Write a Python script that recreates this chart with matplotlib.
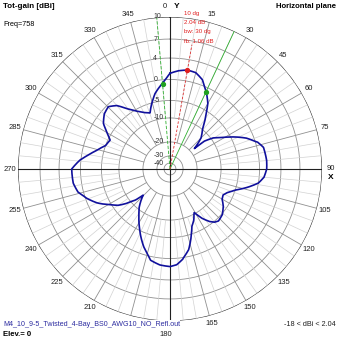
import numpy as np
import matplotlib.pyplot as plt

plt.rcParams['font.family'] = ['Liberation Sans', 'DejaVu Sans']

# ------------------------------------------------------------
# pattern data: horizontal plane, total gain (dBi) vs azimuth (deg)
# ------------------------------------------------------------
azimuth = [0, 5, 10, 15, 20, 25, 30, 38, 45, 50, 51, 54, 58, 63, 68, 73, 77,
           85, 90, 95, 99, 103, 107.5, 112, 116, 120, 125, 131, 137, 140, 143,
           147, 151, 155, 159, 163, 167, 172, 176, 180, 186, 192, 198, 205,
           212, 218.5, 222, 225.8, 228, 231.6, 235, 239, 245, 250.6, 256,
           261.6, 270, 275.7, 280, 284.5, 290, 295.8, 300, 304.4, 310, 315.3,
           320, 324.5, 330, 335, 340.4, 344, 348.8, 354.6, 360]
gain_dbi = [1.15, 1.7, 2.04, 1.9, 1.0, -0.96, -3.3, -9.2, -13, -18, -12.8,
            -9.5, -7.7, -4.5, -1.7, 0.4, 1.2, 1.4, 1.34, 0.9, 0.0, -2.2, -4.8,
            -6.8, -7.7, -7.4, -6.0, -4.8, -4.4, -4.8, -5.8, -7.8, -10.5, -8.5,
            -7.1, -4.2, -1.6, 0.3, 1.2, 1.5, 1.3, 0.7, -1.5, -4.5, -7.8, -10.6,
            -13, -15.7, -12, -8.8, -6.5, -4.8, -2.2, -0.3, 1.0, 1.54, 1.64,
            0.17, -1.7, -3.4, -5.0, -5.6, -4.0, -2.1, -0.9, -0.44, -1.6, -3.7,
            -5.5, -6.8, -7.6, -5.4, -3.0, -0.96, 1.15]

peak_az = 10
peak_db = 2.04
bw_az = [355, 25]
bw_db = [-0.96, -0.96]

# ARRL-like log scale rings
grid_db = [10, 7, 4, 0, -5, -10, -20, -30, -40]
grid_r = [1.0, 0.855, 0.730, 0.589, 0.451, 0.336, 0.178, 0.086, 0.039]

# 195 sits under the file name in the original, so it is not shown
angle_labels = [a for a in range(0, 360, 15) if a != 195]

info_lines = ["10 dg", "2.04 dB", "bw: 30 dg", "fb: 1.06 dB"]


def db_to_r(v):
    return np.interp(v, grid_db[::-1], grid_r[::-1])


W = H = 339
fig = plt.figure(figsize=(W / 100, H / 100), dpi=100)
fig.patch.set_facecolor("white")

cx, cy, R = 170, 169, 152
ax = fig.add_axes([(cx - R) / W, (H - cy - R) / H, 2 * R / W, 2 * R / H],
                  projection="polar")
ax.set_theta_zero_location("N")
ax.set_theta_direction(-1)
ax.set_ylim(0, 1)
ax.axis("off")

# rings
th = np.linspace(0, 2 * np.pi, 721)
for d, r in zip(grid_db, grid_r):
    if d == 10:
        ax.plot(th, np.full_like(th, r), color="#303030", lw=0.8)
    else:
        ax.plot(th, np.full_like(th, r), color="#909090", lw=0.6)

# spokes
for a in range(0, 360, 5):
    t = np.deg2rad(a)
    if a % 90 == 0:
        continue
    if a % 15 == 0:
        ax.plot([t, t], [grid_r[6], 1], color="#909090", lw=0.6)
    else:
        ax.plot([t, t], [grid_r[5], 1], color="#d2d2d2", lw=0.5)

# main axes
for a in (0, 90):
    t = np.deg2rad(a)
    ax.plot([t, t], [0, 1], color="#202020", lw=0.8)
    ax.plot([t + np.pi, t + np.pi], [0, 1], color="#202020", lw=0.8)

# angle labels
for a in angle_labels:
    t = np.deg2rad(a)
    if a == 0:
        ax.annotate("0", (t, 1.0), xytext=(-4, 7.5), textcoords="offset points",
                    ha="center", va="center", fontsize=5.5, color="#202020",
                    annotation_clip=False)
        continue
    if a == 180:
        ax.annotate("180", (t, 1.0), xytext=(-3, -9.5), textcoords="offset points",
                    ha="center", va="center", fontsize=5.5, color="#202020",
                    annotation_clip=False)
        continue
    ax.text(t, 1.055, str(a), ha="center", va="center", fontsize=5.5,
            color="#202020", clip_on=False)

ax.annotate("Y", (0, 1.0), xytext=(4.5, 7.5), textcoords="offset points",
            ha="center", va="center", fontsize=6, fontweight="bold",
            annotation_clip=False)
ax.annotate("X", (np.pi / 2, 1.0), xytext=(6, -6), textcoords="offset points",
            ha="center", va="center", fontsize=6, fontweight="bold",
            annotation_clip=False)

# ring labels
for d, r in zip(grid_db, grid_r):
    ax.annotate(str(d), (0, r), xytext=(-12, 0), textcoords="offset points",
                ha="left", va="center", fontsize=5, color="#303030")

# beamwidth / peak lines
for a, ls in zip(bw_az, [(0, (4, 2)), "-"]):
    t = np.deg2rad(a)
    ax.plot([t, t], [0, 1], color="#30b030", lw=0.6, linestyle=ls)
tp = np.deg2rad(peak_az)
ax.plot([tp, tp], [0, 0.83], color="#e03030", lw=0.6, linestyle=(0, (3, 2)))

# pattern
az_fine = np.linspace(0, 360, 1441)
g_fine = np.interp(az_fine, azimuth, gain_dbi)
ax.plot(np.deg2rad(az_fine), db_to_r(g_fine), color="#10109c", lw=1.2)

ax.plot(np.deg2rad(bw_az), db_to_r(np.array(bw_db)), "o", color="#20a020",
        ms=2.8, mec="#20a020")
ax.plot([tp], [db_to_r(peak_db)], "o", color="#e02020", ms=2.8)

# red info text
for i, s in enumerate(info_lines):
    fig.text(184 / W, 1 - (13 + i * 9.5) / H, s, ha="left", va="center",
             fontsize=4.4, color="#e02020")

# header / footer texts
fig.text(3 / W, 1 - 7 / H, "Tot-gain [dBi]", ha="left", va="center",
         fontsize=5.8, fontweight="bold")
fig.text(3 / W, 1 - 25 / H, "Freq=758", ha="left", va="center", fontsize=5.2)
fig.text(336 / W, 1 - 7 / H, "Horizontal plane", ha="right", va="center",
         fontsize=5.6, fontweight="bold")
fig.text(3 / W, 1 - 324 / H, "M4_10_9-5_Twisted_4-Bay_BS0_AWG10_NO_Refl.out",
         ha="left", va="center", fontsize=5.1, color="#2b2ba0",
         bbox=dict(boxstyle="square,pad=0.05", fc="white", ec="none"))
fig.text(3 / W, 1 - 334 / H, "Elev.= 0", ha="left", va="center",
         fontsize=5.6, fontweight="bold")
fig.text(336 / W, 1 - 324 / H, "-18 < dBi < 2.04", ha="right", va="center",
         fontsize=5.2, color="#202020")

fig.savefig("out.png", dpi=100, facecolor="white")
